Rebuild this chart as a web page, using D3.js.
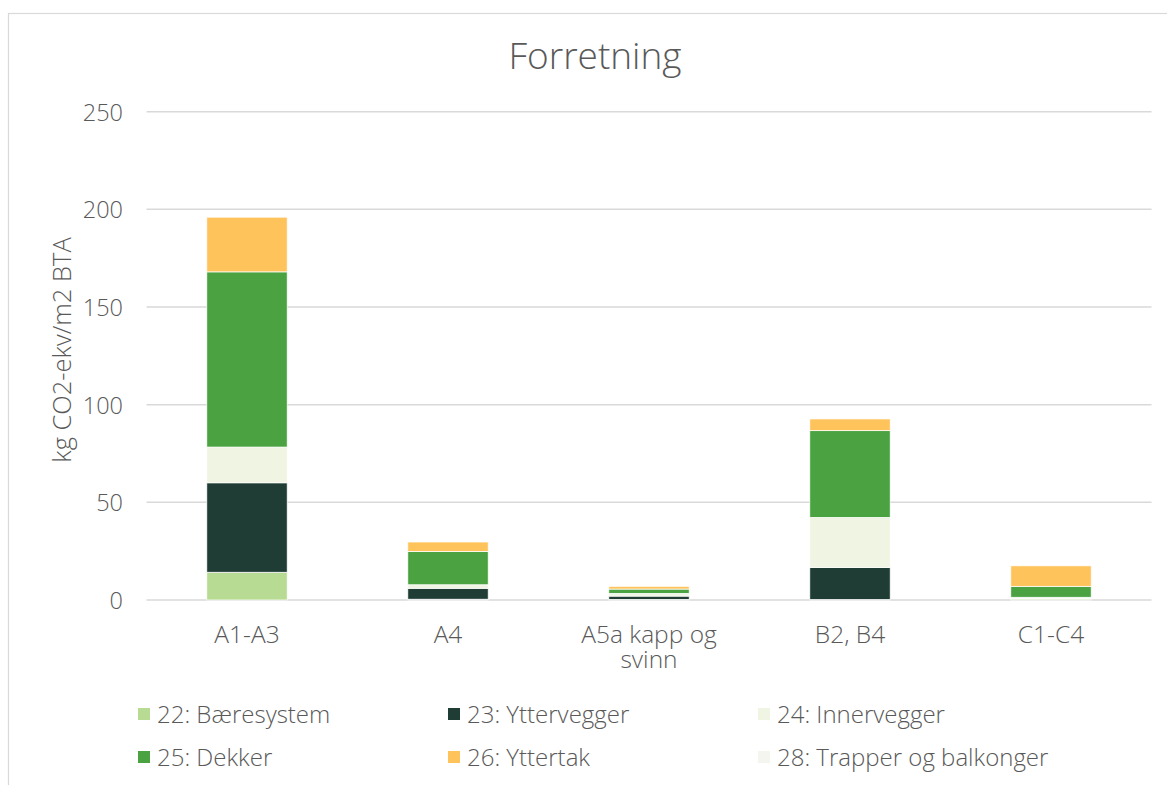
<!DOCTYPE html>
<html><head><meta charset="utf-8">
<script src="https://cdn.jsdelivr.net/npm/d3@7"></script>
<style>
html,body{margin:0;padding:0;background:#fff;}
svg text{font-family:"Open Sans",sans-serif;fill:#595959;font-weight:300;}
</style></head>
<body>
<svg id="chart" width="1167" height="785"></svg>
<script>
const categories = ["A1-A3", "A4", "A5a kapp og svinn", "B2, B4", "C1-C4"];
const seriesNames = ["22: Bæresystem", "23: Yttervegger", "24: Innervegger", "25: Dekker", "26: Yttertak", "28: Trapper og balkonger"];
const s22 = [14.2, 0.4, 0.3, 0.2, 0.6];
const s23 = [45.8, 5.6, 1.7, 16.5, 0.2];
const s24 = [18.3, 1.8, 1.4, 25.6, 0.6];
const s25 = [89.7, 17.1, 2.2, 44.4, 5.6];
const s26 = [28.0, 4.8, 1.4, 6.0, 10.5];
const s28 = [0, 0, 0, 0, 0];
const yTicks = [0, 50, 100, 150, 200, 250];
const colors = ["#B8DB93", "#1F3D34", "#F0F4E3", "#4AA241", "#FFC35B", "#F4F5EF"];

const seriesValues = [s22, s23, s24, s25, s26, s28];
const rows = categories.map((c, i) => {
  const r = {cat: c};
  seriesNames.forEach((n, j) => r[n] = seriesValues[j][i]);
  return r;
});

const svg = d3.select("#chart");
const m = {left: 146.5, right: 1151.5, top: 111.7, bottom: 600};

// chart border
svg.append("rect").attr("x", 8.5).attr("y", 13.5).attr("width", 1170).attr("height", 790)
  .attr("fill", "none").attr("stroke", "#d9d9d9").attr("stroke-width", 1.2);

const x = d3.scaleBand().domain(categories).range([m.left, m.right]).paddingInner(0.6).paddingOuter(0.3);
const y = d3.scaleLinear().domain([0, 250]).range([m.bottom, m.top]);

// gridlines
svg.append("g").selectAll("line").data(yTicks).join("line")
  .attr("x1", m.left).attr("x2", m.right)
  .attr("y1", d => y(d)).attr("y2", d => y(d))
  .attr("stroke", "#d9d9d9").attr("stroke-width", 1.5);

// y axis labels
const yAxis = d3.axisLeft(y).tickValues(yTicks).tickSize(0).tickPadding(0);
const gy = svg.append("g").attr("transform", `translate(123,0)`).call(yAxis);
gy.select(".domain").remove();
gy.selectAll("text").attr("font-size", 23.5).attr("fill", "#595959")
  .style("font-family", "'Open Sans',sans-serif").style("font-weight", 300).attr("dy", "0.36em");

// stacked bars
const stack = d3.stack().keys(seriesNames);
const stacked = stack(rows);
svg.append("g").selectAll("g").data(stacked).join("g")
  .attr("fill", (d, i) => colors[i])
  .selectAll("rect").data(d => d).join("rect")
  .attr("x", d => x(d.data.cat))
  .attr("width", x.bandwidth())
  .attr("y", d => y(d[1]))
  .attr("height", d => Math.max(0, y(d[0]) - y(d[1])))
  .attr("stroke", "#ffffff").attr("stroke-width", 0.75);

// x axis labels
const xAxis = d3.axisBottom(x).tickSize(0).tickPadding(0);
const gx = svg.append("g").attr("transform", `translate(0,${m.bottom})`).call(xAxis);
gx.select(".domain").remove();
gx.selectAll("text").remove();
const xl = svg.append("g");
categories.forEach(c => {
  const cx = x(c) + x.bandwidth() / 2;
  const lines = c === "A5a kapp og svinn" ? ["A5a kapp og", "svinn"] : [c];
  const t = xl.append("text").attr("x", cx).attr("y", 643)
    .attr("text-anchor", "middle").attr("font-size", 24.5);
  lines.forEach((s, k) => {
    t.append("tspan").attr("x", cx).attr("dy", k === 0 ? 0 : 25).text(s);
  });
});

// title
svg.append("text").attr("x", 595).attr("y", 69).attr("text-anchor", "middle")
  .attr("font-size", 37).text("Forretning");

// y axis title
svg.append("text").attr("transform", "translate(71,350) rotate(-90)")
  .attr("text-anchor", "middle").attr("font-size", 25.5).text("kg CO2-ekv/m2 BTA");

// legend
const legX = [138, 448, 758];
const legY = [714, 757];
seriesNames.forEach((n, i) => {
  const lx = legX[i % 3], ly = legY[Math.floor(i / 3)];
  svg.append("rect").attr("x", lx).attr("y", ly - 6).attr("width", 12).attr("height", 12).attr("fill", colors[i]);
  svg.append("text").attr("x", lx + 19).attr("y", ly).attr("dy", "0.36em")
    .attr("font-size", 24).text(n);
});
</script>
</body></html>
